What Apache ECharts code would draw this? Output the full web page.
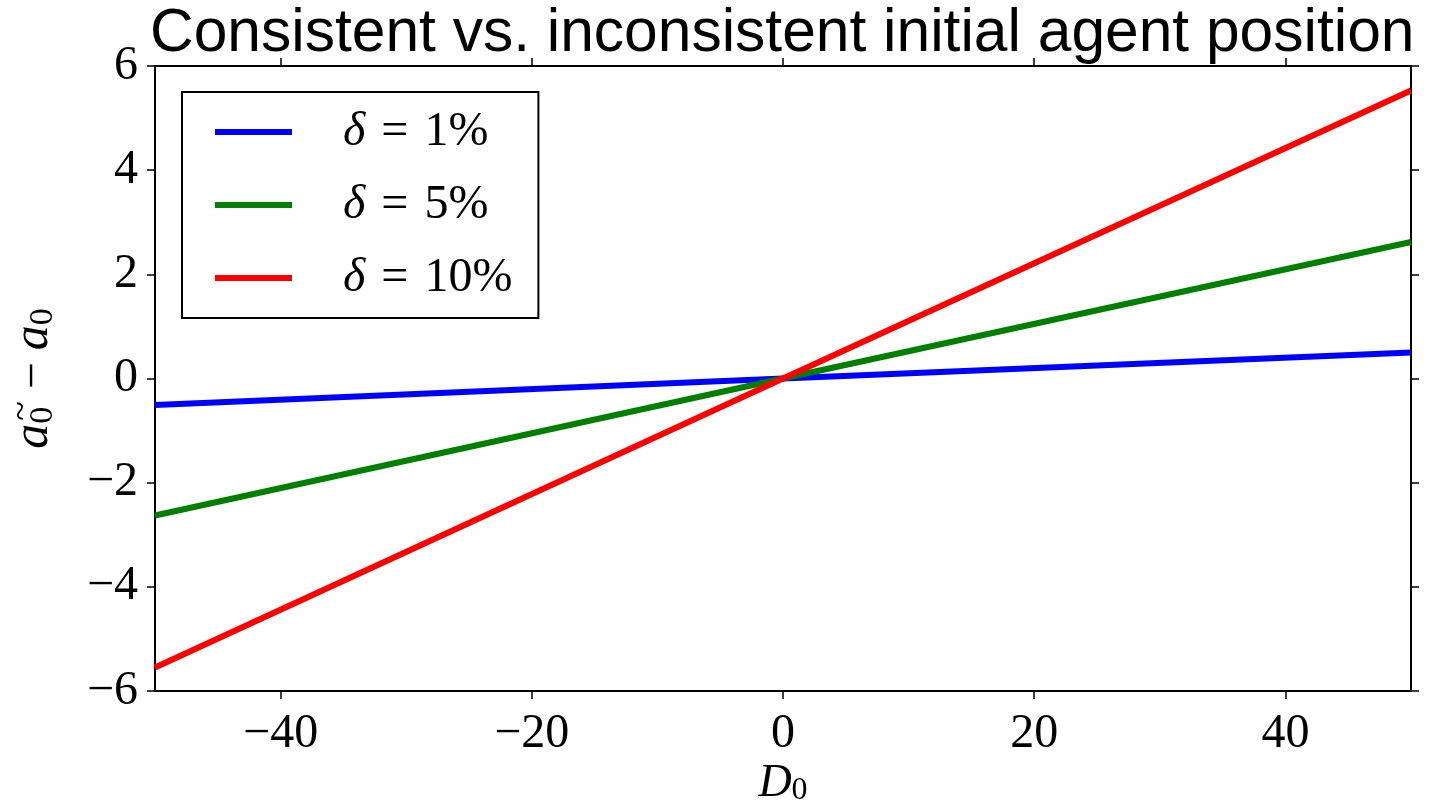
<!DOCTYPE html>
<html>
<head>
<meta charset="utf-8">
<script src="https://cdn.jsdelivr.net/npm/echarts@6/dist/echarts.min.js"></script>
<style>html,body{margin:0;padding:0;background:#fff;}#c{width:1433px;height:805px;}</style>
</head>
<body>
<div id="c"></div>
<script>
const titleText = 'Consistent vs. inconsistent initial agent position';
const xPoints = [-50, 0, 50];
const seriesNames = ['δ = 1%', 'δ = 5%', 'δ = 10%'];
const blueValues = [-0.51, 0, 0.50];
const greenValues = [-2.63, 0, 2.62];
const redValues = [-5.55, 0, 5.53];
const xTicks = [-40, -20, 0, 20, 40];
const yTicks = [-6, -4, -2, 0, 2, 4, 6];
const colors = ['#0000ff', '#008000', '#ff0000'];

const serif = 'Liberation Serif';
const chart = echarts.init(document.getElementById('c'), null, {renderer: 'canvas'});
const fmt = v => String(v).replace('-', '\u2212');
const pairs = vals => xPoints.map((x, i) => [x, vals[i]]);
const allValues = [blueValues, greenValues, redValues];

const axisLineStyle = {show: true, onZero: false, lineStyle: {color: '#000', width: 2}};
const tickStyle = {show: true, inside: false, length: 8, lineStyle: {color: '#000', width: 1.5}};

chart.setOption({
  animation: false,
  backgroundColor: '#fff',
  title: {
    text: titleText,
    left: 150,
    top: 4,
    padding: 0,
    textStyle: {fontFamily: 'Liberation Sans', fontSize: 60.5, fontWeight: 'normal', color: '#000'}
  },
  grid: {left: 155, right: 22, top: 66, bottom: 114, containLabel: false, outerBoundsMode: 'none'},
  legend: {
    orient: 'vertical',
    left: 182,
    top: 92,
    data: seriesNames,
    icon: 'rect',
    itemWidth: 77,
    itemHeight: 6,
    itemGap: 25,
    padding: [16, 26, 16, 33],
    borderColor: '#000',
    borderWidth: 2,
    backgroundColor: '#fff',
    formatter: name => '{g|}{d|δ}' + name.slice(1).replace(/ /g, '\u2004'),
    textStyle: {
      fontFamily: serif, fontSize: 48, color: '#000', lineHeight: 48,
      rich: {
        g: {width: 46, fontSize: 48, lineHeight: 48},
        d: {fontFamily: serif, fontSize: 48, fontStyle: 'italic', color: '#000', lineHeight: 48}
      }
    }
  },
  xAxis: [{
    type: 'value', min: -50, max: 50, position: 'bottom',
    axisLine: axisLineStyle,
    axisTick: Object.assign({}, tickStyle, {customValues: xTicks}),
    axisLabel: {customValues: xTicks, formatter: fmt, fontFamily: serif, fontSize: 48, color: '#000', margin: 19},
    splitLine: {show: false},
    name: '{i|D}{s|0}',
    nameLocation: 'middle',
    nameGap: 66,
    nameMoveOverlap: false,
    nameTextStyle: {
      rich: {
        i: {fontFamily: serif, fontStyle: 'italic', fontSize: 46, color: '#000', verticalAlign: 'bottom'},
        s: {fontFamily: serif, fontSize: 32, color: '#000', padding: [18, 0, 0, 0], verticalAlign: 'bottom'}
      }
    }
  }, {
    type: 'value', min: -50, max: 50, position: 'top',
    axisLine: axisLineStyle,
    axisTick: Object.assign({}, tickStyle, {customValues: xTicks}),
    axisLabel: {show: false},
    splitLine: {show: false}
  }],
  yAxis: [{
    type: 'value', min: -6, max: 6, interval: 2, position: 'left',
    axisLine: axisLineStyle,
    axisTick: Object.assign({}, tickStyle, {customValues: yTicks}),
    axisLabel: {customValues: yTicks, formatter: fmt, fontFamily: serif, fontSize: 48, color: '#000', margin: 17},
    splitLine: {show: false},
    name: '{i|a}{s|0}{t|~} − {i|a}{s|0}',
    nameLocation: 'middle',
    nameGap: 92,
    nameMoveOverlap: false,
    nameTextStyle: {
      fontFamily: serif, fontSize: 48, color: '#000',
      rich: {
        i: {fontFamily: serif, fontStyle: 'italic', fontSize: 50, color: '#000'},
        s: {fontFamily: serif, fontSize: 34, color: '#000', padding: [18, 0, 0, 0]},
        t: {fontFamily: serif, fontSize: 36, color: '#000', padding: [0, 0, 22, -14]}
      }
    }
  }, {
    type: 'value', min: -6, max: 6, interval: 2, position: 'right',
    axisLine: axisLineStyle,
    axisTick: Object.assign({}, tickStyle, {customValues: yTicks}),
    axisLabel: {show: false},
    splitLine: {show: false}
  }],
  series: seriesNames.map((n, i) => ({
    name: n,
    type: 'line',
    data: pairs(allValues[i]),
    showSymbol: false,
    color: colors[i],
    itemStyle: {color: colors[i]},
    lineStyle: {color: colors[i], width: 6},
    z: 3 + i
  }))
});
</script>
</body>
</html>
